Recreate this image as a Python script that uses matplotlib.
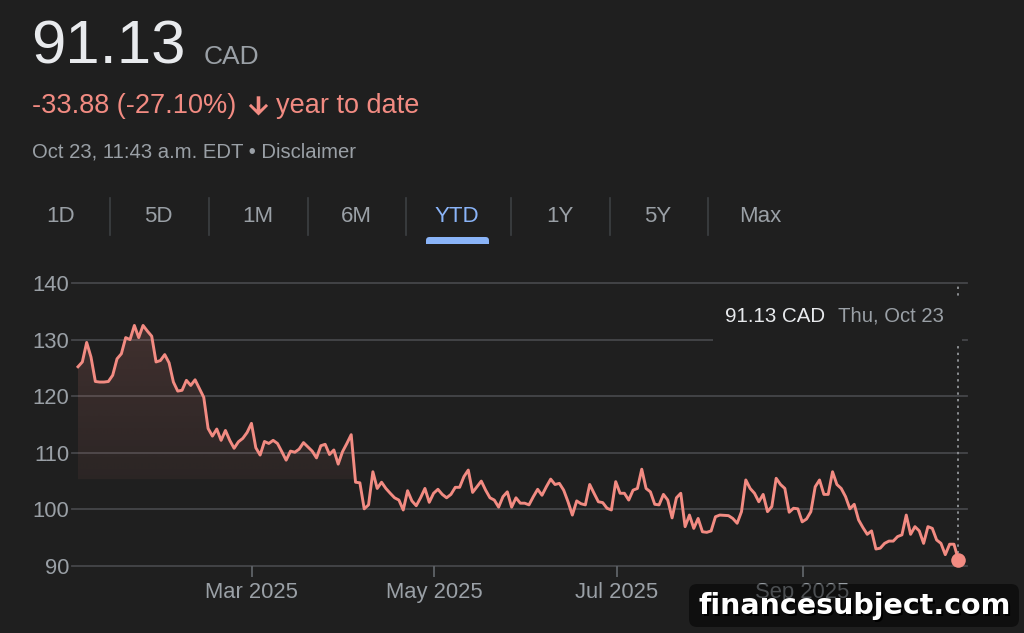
import numpy as np
import pandas as pd
import matplotlib
matplotlib.use("Agg")
import matplotlib.pyplot as plt
import matplotlib.dates as mdates
from matplotlib.patches import Polygon, Rectangle, FancyBboxPatch

plt.rcParams['font.family'] = ['Liberation Sans', 'DejaVu Sans']

# ---------------- data ----------------
start_date = "2025-01-02"
end_date = "2025-10-23"

prices = [
    125.2, 126.05, 129.5, 126.9, 122.6, 122.5, 122.5, 122.6, 123.7, 126.6,
    127.5, 130.35, 130.0, 132.5, 130.35, 132.5, 131.5, 130.6, 126.05, 126.3,
    127.35, 125.9, 122.5, 120.9, 121.05, 122.8, 121.9, 122.9, 121.35, 119.8,
    114.3, 112.95, 114.2, 112.2, 113.95, 112.2, 110.8, 111.95, 112.55, 113.6,
    115.2, 110.9, 109.6, 112.0, 111.65, 112.2, 111.65, 110.2, 108.7, 110.3,
    110.1, 110.65, 111.8, 111.05, 110.3, 109.1, 111.25, 111.5, 109.7, 110.5,
    108.0, 110.2, 111.65, 113.2, 104.8, 104.7, 100.1, 100.8, 106.65, 103.7,
    104.8, 103.7, 102.85, 102.05, 101.65, 99.9, 103.3, 101.5, 100.65, 102.05,
    103.7, 101.25,
    102.85, 103.55, 102.65, 102.05, 102.65, 103.9, 103.9, 105.8, 106.95, 103.0,
    104.0, 105.0, 103.4, 102.05, 101.65, 100.4, 102.25, 103.1, 100.4, 102.05,
    101.1, 101.1, 100.8, 102.25, 103.55, 102.5, 104.0, 105.35, 104.4, 104.6,
    103.4, 101.35, 99.0, 101.5, 101.0, 100.8, 104.4, 102.85, 101.35, 101.2,
    100.2,
    99.9, 104.9, 102.85, 102.85, 101.65, 103.4, 103.7, 107.1, 103.7, 103.1,
    100.9, 100.8, 102.65, 101.65, 98.5, 102.05, 102.85, 96.95, 99.0, 96.65,
    98.4, 96.05, 95.95, 96.2, 98.7, 99.0, 98.95, 98.9, 98.4, 97.55,
    99.6, 105.2, 103.7, 102.85, 101.35, 102.65, 99.6, 100.5, 105.5, 104.4,
    103.7, 99.5, 100.2, 100.1,
    97.8, 98.3, 99.6, 104.0, 105.2, 102.65, 102.65, 106.65, 104.4, 103.7,
    102.25, 100.1, 100.9, 98.15, 96.8, 95.6, 96.2, 93.0, 93.15, 94.0,
    94.4, 94.4, 95.2, 95.5, 99.0, 95.6, 96.95, 96.2, 94.0, 96.95,
    96.65, 94.6, 94.0, 92.0, 93.85, 93.85, 91.13,
]

y_ticks = [90, 100, 110, 120, 130, 140]
x_tick_dates = ["2025-03-01", "2025-05-01", "2025-07-01", "2025-09-01"]
tabs = ["1D", "5D", "1M", "6M", "YTD", "1Y", "5Y", "Max"]
price_text = "91.13"
currency = "CAD"
change_text = "-33.88 (-27.10%)"
period_text = "year to date"
stamp_text = "Oct 23, 11:43 a.m. EDT \u2022 Disclaimer"
tooltip_value = "91.13 CAD"
tooltip_date = "Thu, Oct 23"
watermark = "financesubject.com"

prices = np.array(prices)
# samples evenly spaced in time over the YTD window (as the chart plots them)
times = pd.date_range(start_date, end_date, periods=len(prices))

# ---------------- style ----------------
BG = "#1f1f1f"
RED = "#f28b82"
GRID = "#45464a"
GRAY = "#9aa0a6"
WHITE = "#e8eaed"
BLUE = "#8ab4f8"

W, H = 1024, 633
fig = plt.figure(figsize=(W / 100, H / 100), dpi=100, facecolor=BG)

# chart axes in pixel layout
L, R, T, B = 72, 967, 283, 566
ax = fig.add_axes([L / W, 1 - B / H, (R - L) / W, (B - T) / H])
ax.set_facecolor("none")
for s in ax.spines.values():
    s.set_visible(False)

xd = mdates.date2num(times)
d0, d1 = xd[0], xd[-1]
ppd = (958.3 - 78) / (d1 - d0)
xmin = d0 - (78 - L) / ppd
xmax = d1 + (R - 958.3) / ppd

# grid lines
for v in y_ticks:
    ax.axhline(v, color=GRID, lw=1.3, clip_on=False, zorder=1)

# gradient fill under line
n = 600
vals = np.linspace(140, 90, n)
alpha = np.where(vals >= 105.3, 0.06 + (vals - 105.3) / (140 - 105.3) * 0.13, 0.0)
grad = np.zeros((n, 2, 4))
grad[..., 0] = 242 / 255
grad[..., 1] = 139 / 255
grad[..., 2] = 130 / 255
grad[..., 3] = alpha[:, None]
verts = list(zip(xd, prices)) + [(xd[-1], 90), (xd[0], 90)]
poly = Polygon(verts, closed=True, facecolor="none", edgecolor="none")
ax.add_patch(poly)
im = ax.imshow(grad, extent=[xd[0], xd[-1], 90, 140], aspect="auto",
               origin="upper", zorder=2, interpolation="bilinear")
im.set_clip_path(poly)

# dotted crosshair
ax.plot([xd[-1], xd[-1]], [prices[-1], 140], color="#8a8d91", lw=1.4,
        ls=(0, (1.2, 2.2)), zorder=3, clip_on=False)

# price line
ax.plot(xd, prices, color=RED, lw=2.1, zorder=4, solid_joinstyle="round")
ax.plot([xd[-1]], [prices[-1]], "o", ms=10.5, color=RED, mec="none",
        zorder=5, clip_on=False)

ax.set_xlim(xmin, xmax)
ax.set_ylim(90, 140)
ax.set_yticks(y_ticks)
ax.set_yticklabels([str(v) for v in y_ticks])
ax.set_xticks(mdates.date2num(pd.to_datetime(x_tick_dates)))
ax.xaxis.set_major_formatter(mdates.DateFormatter("%b %Y"))
ax.tick_params(axis="y", length=0, pad=2, labelsize=15.8, labelcolor=GRAY)
ax.tick_params(axis="x", length=8, width=1.3, color="#5f6368", pad=3.5,
               labelsize=15.8, labelcolor=GRAY)

# overlay in pixel coordinates
ov = fig.add_axes([0, 0, 1, 1], zorder=5)
ov.set_xlim(0, W)
ov.set_ylim(H, 0)
ov.axis("off")
ov.patch.set_alpha(0)

# header
ov.text(31, 64, price_text, fontsize=44.5, color=WHITE, va="baseline", ha="left")
ov.text(204, 64, currency, fontsize=19, color=GRAY, va="baseline", ha="left")
ov.text(32, 113, change_text, fontsize=19.5, color=RED, va="baseline", ha="left")
# down-arrow icon
s, ox, oy = 1.2, 244.1, 91.5
icon = [(20, 12), (18.3, 10.3), (13.5, 15.0), (13.5, 4), (10.5, 4),
        (10.5, 15.0), (5.7, 10.3), (4, 12), (12, 20)]
ov.add_patch(Polygon([(ox + s * a, oy + s * b) for a, b in icon], closed=True,
                     facecolor=RED, edgecolor="none"))
ov.text(276, 113, period_text, fontsize=19.5, color=RED, va="baseline", ha="left")
ov.text(32, 158, stamp_text, fontsize=14.6, color=GRAY, va="baseline", ha="left")

# tabs
tab_x = [61, 158.5, 258, 356, 457, 560, 658, 760]
sep_x = [110, 209, 307.5, 406, 511, 610, 708]
for lbl, x in zip(tabs, tab_x):
    ov.text(x, 216, lbl, fontsize=16, color=BLUE if lbl == "YTD" else GRAY,
            ha="center", va="center")
for x in sep_x:
    ov.plot([x, x], [198, 235], color="#3c4043", lw=1.2)
ov.add_patch(FancyBboxPatch((426, 237), 63, 7,
                            boxstyle="round,pad=0,rounding_size=3.5",
                            facecolor=BLUE, edgecolor="none"))
ov.add_patch(Rectangle((426, 240.5), 63, 3.5, facecolor=BLUE, edgecolor="none"))

# tooltip
ov.add_patch(Rectangle((713, 296), 249, 46, facecolor=BG, edgecolor="none"))
ov.text(725, 322, tooltip_value, fontsize=14.8, color=WHITE, va="baseline", ha="left")
ov.text(838, 322, tooltip_date, fontsize=14.6, color=GRAY, va="baseline", ha="left")

# watermark
ov.add_patch(FancyBboxPatch((689, 584), 330, 43,
                            boxstyle="round,pad=0,rounding_size=8",
                            facecolor="black", alpha=0.5, edgecolor="none"))
ov.text(857, 608, watermark, fontsize=20.5, color="black", fontweight="bold",
        family=["DejaVu Sans"], ha="center", va="center")
ov.text(855, 606, watermark, fontsize=20.5, color="white", fontweight="bold",
        family=["DejaVu Sans"], ha="center", va="center")

fig.savefig("out.png", dpi=100, facecolor=BG)
